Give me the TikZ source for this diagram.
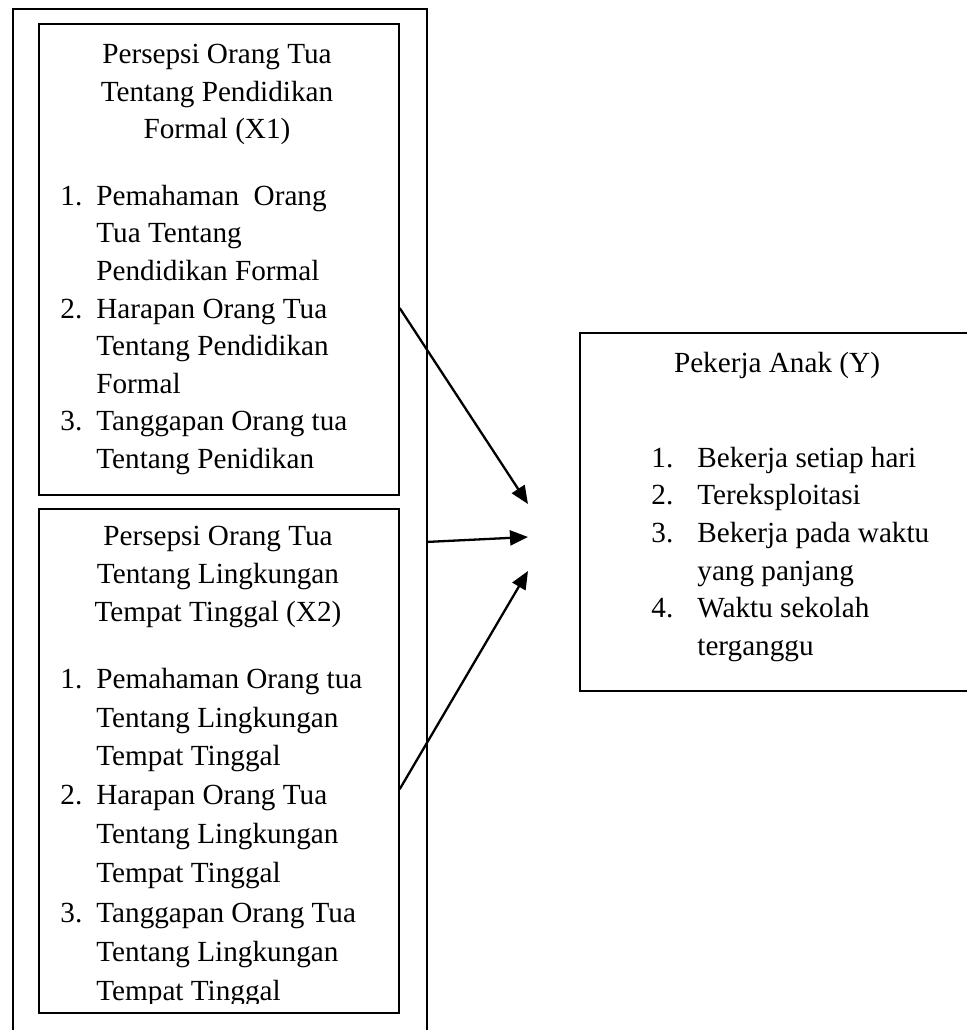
\documentclass[tikz,border=0pt]{standalone}
\usepackage{fontspec}
\setmainfont{Liberation Serif}
\usetikzlibrary{calc,arrows.meta}

\begin{document}
\begin{tikzpicture}[x=0.5pt,y=-0.5pt,
        kotak/.style={draw, line width=0.85pt, inner sep=0pt, anchor=north west},
        teks/.style={inner sep=0pt, anchor=base west, font=\fontsize{14.6}{17}\selectfont},
        judul/.style={inner sep=0pt, anchor=base, font=\fontsize{14.6}{17}\selectfont},
        panah/.style={line width=1.15pt, -{Triangle[length=9pt,width=7.5pt]}}]
        \useasboundingbox (0,0) rectangle (967,1030);

        % Boxes (coordinates in pixels of the page)
        \node[kotak, minimum width=207pt, minimum height=518.5pt] (luar) at (12,8) {};
        \node[kotak, minimum width=180pt, minimum height=235.5pt] (xsatu) at (38,23) {};
        \node[kotak, minimum width=180pt, minimum height=252pt] (xdua) at (38,508) {};
        \node[kotak, minimum width=198pt, minimum height=179pt] (yanak) at (579,332) {};

        % X1
        \node[judul] (xsatuA) at (217,63) {Persepsi Orang Tua};
        \node[judul] (xsatuB) at (217,101) {Tentang Pendidikan};
        \node[judul] (xsatuC) at (217,138) {Formal (X1)};
        \node[teks] (xsatu1) at (60,205) {\makebox[18pt][l]{1.}Pemahaman~ Orang};
        \node[teks] (xsatu1b) at (96,242) {Tua Tentang};
        \node[teks] (xsatu1c) at (96,280) {Pendidikan Formal};
        \node[teks] (xsatu2) at (60,318) {\makebox[18pt][l]{2.}Harapan Orang Tua};
        \node[teks] (xsatu2b) at (96,355) {Tentang Pendidikan};
        \node[teks] (xsatu2c) at (96,393) {Formal};
        \node[teks] (xsatu3) at (60,430) {\makebox[18pt][l]{3.}Tanggapan Orang tua};
        \node[teks] (xsatu3b) at (96,468) {Tentang Penidikan};

        % X2
        \node[judul] (xduaA) at (218,545) {Persepsi Orang Tua};
        \node[judul] (xduaB) at (218,583) {Tentang Lingkungan};
        \node[judul] (xduaC) at (218,621) {Tempat Tinggal (X2)};
        \node[teks] (xdua1) at (60,688) {\makebox[18pt][l]{1.}Pemahaman Orang tua};
        \node[teks] (xdua1b) at (96,727) {Tentang Lingkungan};
        \node[teks] (xdua1c) at (96,765) {Tempat Tinggal};
        \node[teks] (xdua2) at (60,804) {\makebox[18pt][l]{2.}Harapan Orang Tua};
        \node[teks] (xdua2b) at (96,843) {Tentang Lingkungan};
        \node[teks] (xdua2c) at (96,882) {Tempat Tinggal};
        \node[teks] (xdua3) at (60,922) {\makebox[18pt][l]{3.}Tanggapan Orang Tua};
        \node[teks] (xdua3b) at (96,961) {Tentang Lingkungan};
        % last line is cut off by the box
        \begin{scope}
            \clip (38,508) rectangle (398,1003);
            \node[teks] (xdua3c) at (96,1000) {Tempat Tinggal};
        \end{scope}

        % Y
        \node[judul] (yanakA) at (777,372) {Pekerja Anak (Y)};
        \node[teks] (yanak1) at (651,467) {\makebox[23pt][l]{1.}Bekerja setiap hari};
        \node[teks] (yanak2) at (651,504) {\makebox[23pt][l]{2.}Tereksploitasi};
        \node[teks] (yanak3) at (651,542) {\makebox[23pt][l]{3.}Bekerja pada waktu};
        \node[teks] (yanak3b) at (697,580) {yang panjang};
        \node[teks] (yanak4) at (651,617) {\makebox[23pt][l]{4.}Waktu sekolah};
        \node[teks] (yanak4b) at (697,655) {terganggu};

        % Arrows
        \coordinate (ujung1) at (528,504);
        \coordinate (ujung2) at (528,537);
        \coordinate (ujung3) at (528,571);
        \draw[panah] ($(xsatu.north east)!0.603!(xsatu.south east)$) -- (ujung1);
        \draw[panah] ($(luar.north east)!0.514!(luar.south east)$) -- (ujung2);
        \draw[panah] ($(xdua.north east)!0.556!(xdua.south east)$) -- (ujung3);

    \end{tikzpicture}
\end{document}
